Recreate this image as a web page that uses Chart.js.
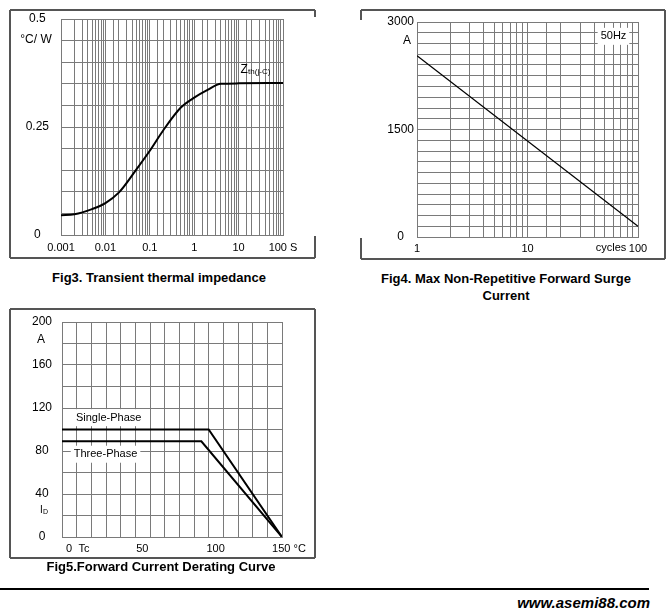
<!DOCTYPE html>
<html>
<head>
<meta charset="utf-8">
<script src="https://cdn.jsdelivr.net/npm/chart.js@4.4.1/dist/chart.umd.min.js"></script>
<style>
  body { margin: 0; width: 671px; height: 616px; background: #fff; position: relative; overflow: hidden;
         font-family: "Liberation Sans", Arial, sans-serif; color: #000; }
  canvas { position: absolute; }
  .cap { position: absolute; font-weight: bold; font-size: 13px; line-height: 17px; text-align: center; }
  .rule { position: absolute; left: 0; top: 588px; width: 649px; height: 2px; background: #000; }
  .site { position: absolute; left: 450px; top: 594px; width: 200px; text-align: right;
          font-size: 15px; line-height: 18px; font-weight: bold; font-style: italic; }
</style>
</head>
<body>
<canvas id="fig3" width="307" height="250" style="left:9px;top:9px"></canvas>
<canvas id="fig4" width="306" height="251" style="left:360px;top:9px"></canvas>
<canvas id="fig5" width="307" height="251" style="left:9px;top:308px"></canvas>
<div class="cap" style="left:9px;top:269px;width:300px">Fig3. Transient thermal impedance</div>
<div class="cap" style="left:376px;top:270px;width:260px">Fig4. Max Non-Repetitive Forward Surge<br>Current</div>
<div class="cap" style="left:11px;top:558px;width:300px">Fig5.Forward Current Derating Curve</div>
<div class="rule"></div>
<div class="site">www.asemi88.com</div>
<script>
// ---- Fig3: transient thermal impedance ----
const zthTime  = [0.001, 0.002, 0.005, 0.01, 0.02, 0.05, 0.1, 0.2, 0.5, 1, 2, 4, 10, 100];
const zthValue = [0.046, 0.048, 0.060, 0.074, 0.098, 0.152, 0.195, 0.242, 0.295, 0.318, 0.336, 0.350, 0.351, 0.352];
const zthDecades = [0.001, 0.01, 0.1, 1, 10, 100];
const zthDecadeLabels = ['0.001', '0.01', '0.1', '1', '10', '100 S'];
const zthYTicks = [0, 0.25, 0.5];
const zthYLabels = ['0', '0.25', '0.5'];

// ---- Fig4: max non-repetitive surge current ----
const surgeCycles = [1, 100];
const surgeAmps = [2530, 150];
const surgeDecades = [1, 10, 100];
const surgeDecadeLabels = ['1', '10', '100'];
const surgeYTicks = [0, 1500, 3000];
const surgeYLabels = ['0', '1500', '3000'];

// ---- Fig5: forward current derating ----
const singleTemp = [0, 100, 150];
const singleAmps = [100, 100, 0];
const threeTemp = [0, 95, 150];
const threeAmps = [89, 89, 0];
const derXTicks = [0, 50, 100, 150];
const derXLabels = ['0', '50', '100', '150 °C'];
const derYTicks = [0, 40, 80, 120, 160, 200];
const derYLabels = ['0', '40', '80', '120', '160', '200'];

Chart.defaults.font.family = '"Liberation Sans", Arial, sans-serif';
Chart.defaults.color = '#000';
Chart.defaults.animation = false;
Chart.defaults.plugins.legend.display = false;
Chart.defaults.plugins.tooltip.enabled = false;

const GRID = '#7a7a7a';
const pts = (xs, ys) => xs.map((x, i) => ({ x, y: ys[i] }));
const near = (a, b) => Math.abs(a - b) <= 1e-6 * Math.max(1, Math.abs(b));
const pick = (vals, labels) => v => {
  const i = vals.findIndex(t => near(v, t));
  return i < 0 ? '' : labels[i];
};

// fixed axis size; drop the label overhang padding so layout.padding alone sets the plot box
function axis(o) {
  return {
    type: o.type, min: o.min, max: o.max,
    grid: { color: GRID, lineWidth: 1, drawTicks: false },
    border: { color: GRID, width: 1 },
    afterFit: s => {
      if (s.isHorizontal()) s.height = o.size_;
      else s.width = o.size_;
      s.paddingTop = s.paddingBottom = 0;
    },
    ticks: {
      autoSkip: false, maxRotation: 0, padding: o.pad, stepSize: o.step, labelOffset: o.shift || 0,
      font: { size: o.size }, crossAlign: o.cross || 'near', callback: o.label,
    },
  };
}

function line(data, width) {
  return { data, borderColor: '#000', borderWidth: width, pointRadius: 0, fill: false };
}

// box round each figure; one side has a break in the middle like the scan
function frame(gapSide) {
  return {
    id: 'frame',
    afterDraw(chart) {
      const { ctx, width: w, height: h, chartArea: a } = chart;
      const L = 1, R = w - 1, T = 1, B = h - 1;
      const segs = [[L, T, R, T], [L, B, R, B]];
      [['left', L], ['right', R]].forEach(([side, x]) => {
        if (side === gapSide) segs.push([x, T, x, a.top - 2], [x, a.bottom + 1, x, B]);
        else segs.push([x, T, x, B]);
      });
      ctx.save();
      ctx.strokeStyle = '#555';
      ctx.lineWidth = 2;
      ctx.beginPath();
      segs.forEach(([x1, y1, x2, y2]) => { ctx.moveTo(x1, y1); ctx.lineTo(x2, y2); });
      ctx.stroke();
      ctx.restore();
    }
  };
}

function note(ctx, text, x, y, size, align = 'center', bg = false, base = 'middle') {
  ctx.save();
  ctx.font = size + 'px "Liberation Sans", Arial, sans-serif';
  ctx.textAlign = align;
  ctx.textBaseline = base;
  if (bg) {
    const w = ctx.measureText(text).width;
    const x0 = align === 'left' ? x : x - w / 2;
    ctx.fillStyle = '#fff';
    ctx.fillRect(x0 - 3, y - size / 2 - 3, w + 6, size + 6);
  }
  ctx.fillStyle = '#000';
  ctx.fillText(text, x, y);
  ctx.restore();
}

new Chart(document.getElementById('fig3'), {
  type: 'line',
  data: { datasets: [{ ...line(pts(zthTime, zthValue), 2), cubicInterpolationMode: 'monotone' }] },
  options: {
    responsive: false,
    layout: { padding: { left: 0, right: 33, top: 10, bottom: 0 } },
    scales: {
      x: axis({ type: 'logarithmic', min: 0.001, max: 100, pad: 6, size: 11, size_: 24,
                label: pick(zthDecades, zthDecadeLabels) }),
      y: axis({ type: 'linear', min: 0, max: 0.5, step: 0.05, pad: 12, size: 12, size_: 52, cross: 'center',
                label: pick(zthYTicks, zthYLabels) }),
    }
  },
  plugins: [frame('right'), {
    id: 'notes3',
    afterDraw(c) {
      const { ctx, chartArea: a, scales: { x, y } } = c;
      note(ctx, '°C/ W', a.left - 25, y.getPixelForValue(0.5) + 21, 12);
      const zx = x.getPixelForValue(10) + 2, zy = y.getPixelForValue(0.375);
      note(ctx, 'Z', zx, zy, 12, 'left', false, 'alphabetic');
      note(ctx, 'th(j-C)', zx + 7.5, zy + 1, 8, 'left', false, 'alphabetic');
    }
  }]
});

new Chart(document.getElementById('fig4'), {
  type: 'line',
  data: { datasets: [line(pts(surgeCycles, surgeAmps), 1.3)] },
  options: {
    responsive: false,
    layout: { padding: { left: 0, right: 28, top: 13, bottom: 0 } },
    scales: {
      x: axis({ type: 'logarithmic', min: 1, max: 100, pad: 5, size: 11, size_: 23,
                label: pick(surgeDecades, surgeDecadeLabels) }),
      y: axis({ type: 'linear', min: 0, max: 3000, step: 150, pad: 3, size: 12, size_: 57, cross: 'center',
                label: pick(surgeYTicks, surgeYLabels) }),
    }
  },
  plugins: [frame('left'), {
    id: 'notes4',
    afterDraw(c) {
      const { ctx, chartArea: a, scales: { x, y } } = c;
      note(ctx, 'A', a.left - 10, y.getPixelForValue(3000) + 19, 12);
      note(ctx, 'cycles', x.getPixelForValue(100) - 27, a.bottom + 11, 11);
      note(ctx, '50Hz', x.getPixelForValue(60), y.getPixelForValue(2800), 11, 'center', true);
    }
  }]
});

new Chart(document.getElementById('fig5'), {
  type: 'line',
  data: { datasets: [line(pts(singleTemp, singleAmps), 2), line(pts(threeTemp, threeAmps), 2)] },
  options: {
    responsive: false,
    layout: { padding: { left: 0, right: 34, top: 14, bottom: 0 } },
    scales: {
      x: axis({ type: 'linear', min: 0, max: 150, step: 10, pad: 5, size: 11, size_: 22, shift: 7,
                label: pick(derXTicks, derXLabels) }),
      y: axis({ type: 'linear', min: 0, max: 200, step: 20, pad: 10, size: 12, size_: 53, cross: 'center',
                label: pick(derYTicks, derYLabels) }),
    }
  },
  plugins: [frame(null), {
    id: 'notes5',
    afterDraw(c) {
      const { ctx, chartArea: a, scales: { x, y } } = c;
      note(ctx, 'A', a.left - 21, y.getPixelForValue(200) + 18, 12);
      const iy = y.getPixelForValue(0) - 24;
      note(ctx, 'I', a.left - 22, iy, 10, 'left', false, 'alphabetic');
      note(ctx, 'D', a.left - 19, iy + 1, 7, 'left', false, 'alphabetic');
      note(ctx, 'Tc', x.getPixelForValue(0) + 22, a.bottom + 12, 11);
      note(ctx, 'Single-Phase', x.getPixelForValue(9.5), y.getPixelForValue(111), 11, 'left', true);
      note(ctx, 'Three-Phase', x.getPixelForValue(8), y.getPixelForValue(77), 11, 'left', true);
    }
  }]
});
</script>
</body>
</html>
